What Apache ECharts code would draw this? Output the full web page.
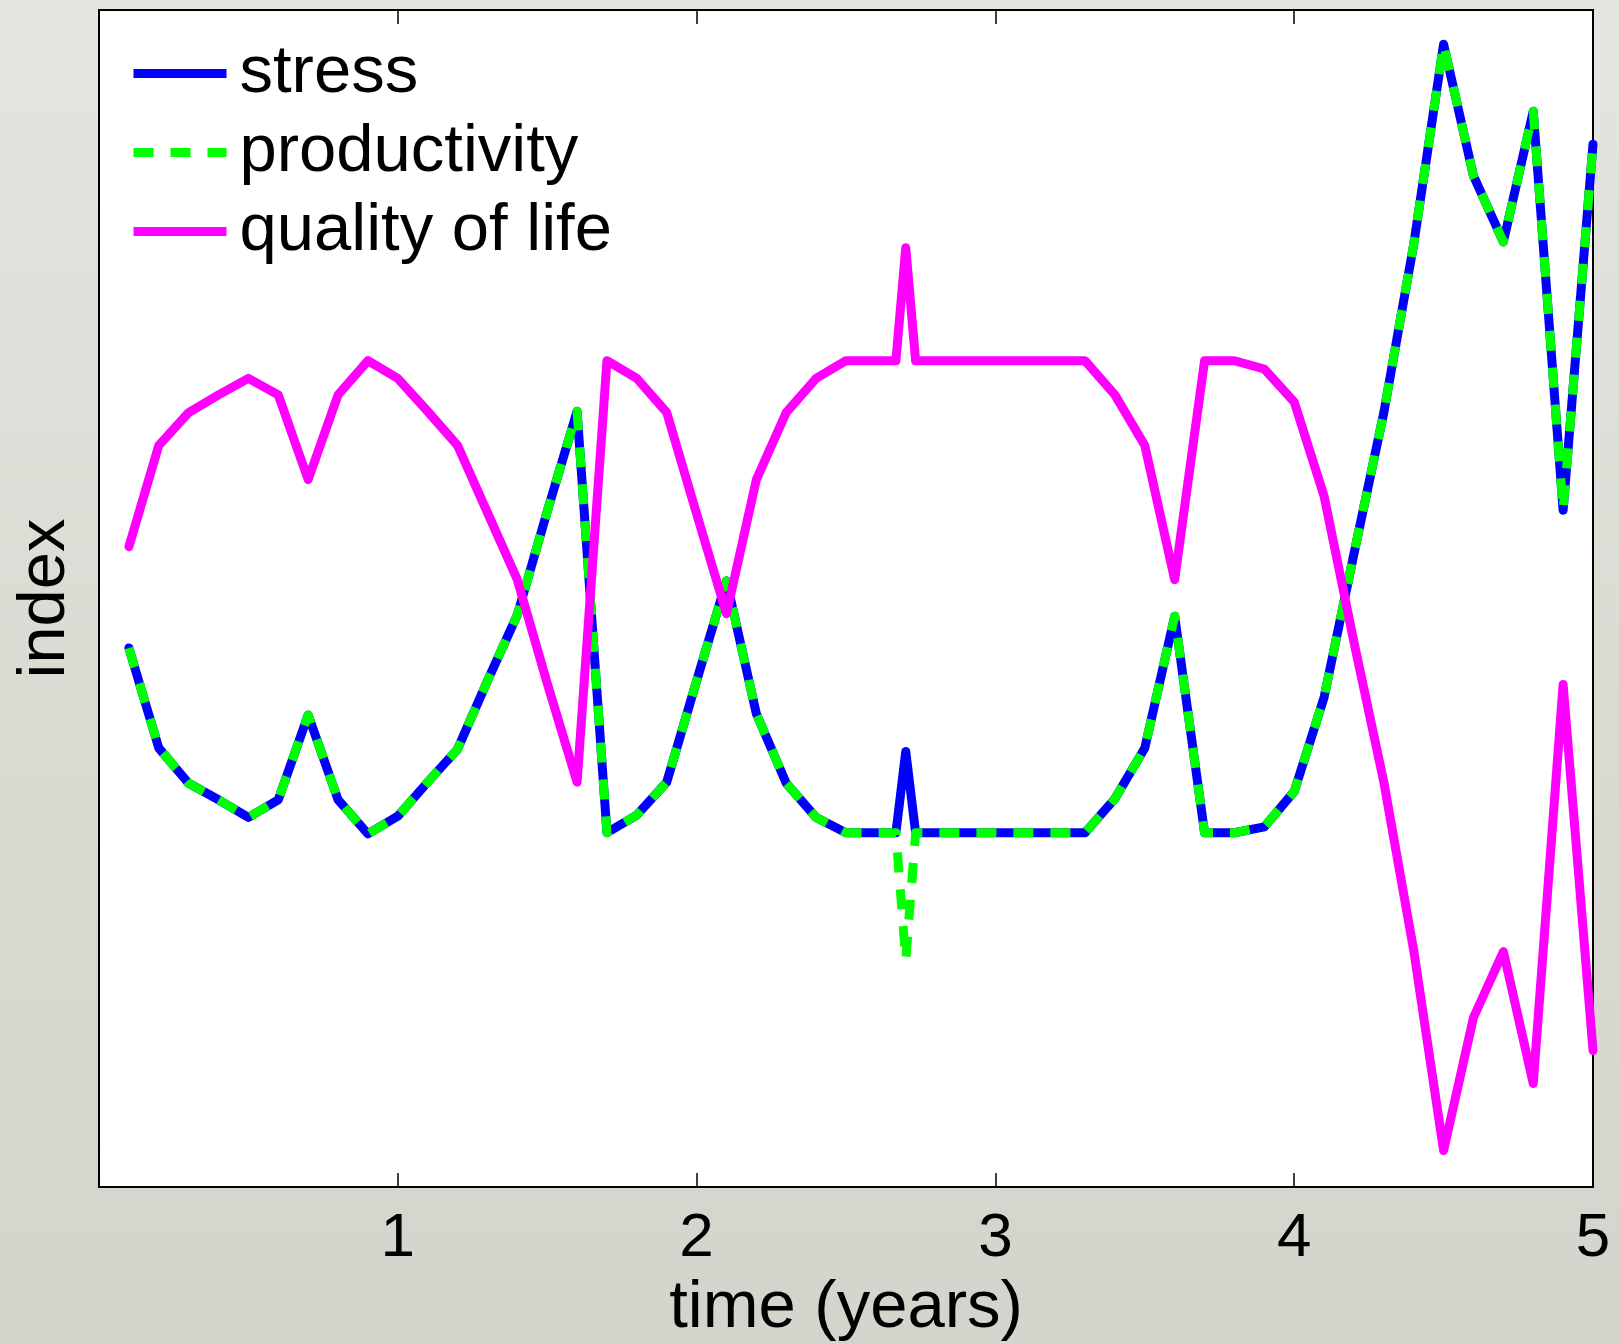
<!DOCTYPE html>
<html>
<head>
<meta charset="utf-8">
<title>stress / productivity / quality of life</title>
<script src="https://cdn.jsdelivr.net/npm/echarts@6/dist/echarts.min.js"></script>
<style>
  html, body {
    margin: 0;
    padding: 0;
  }
  #chart {
    width: 1619px;
    height: 1343px;
    background: linear-gradient(180deg, #e5e5e0 0%, #dbdbd4 50%, #d4d4cc 100%);
  }
</style>
</head>
<body>
<div id="chart"></div>
<script>
  // time points (years); extra points round the spike at 2.7
  const time = [
    0.1, 0.2, 0.3, 0.4, 0.5, 0.6, 0.7, 0.8, 0.9, 1.0,
    1.1, 1.2, 1.3, 1.4, 1.5, 1.6, 1.7, 1.8, 1.9, 2.0,
    2.1, 2.2, 2.3, 2.4, 2.5, 2.6, 2.667, 2.7, 2.733, 2.8,
    2.9, 3.0, 3.1, 3.2, 3.3, 3.4, 3.5, 3.6, 3.7, 3.8,
    3.9, 4.0, 4.1, 4.2, 4.3, 4.4, 4.5, 4.6, 4.7, 4.8,
    4.9, 5.0
  ]
  const stress = [
    0.458, 0.373, 0.343, 0.329, 0.314, 0.329, 0.401, 0.329, 0.300, 0.315,
    0.344, 0.372, 0.430, 0.486, 0.574, 0.659, 0.301, 0.316, 0.344, 0.430,
    0.515, 0.402, 0.343, 0.314, 0.301, 0.301, 0.301, 0.370, 0.301, 0.301,
    0.301, 0.301, 0.301, 0.301, 0.301, 0.330, 0.373, 0.485, 0.301, 0.301,
    0.306, 0.336, 0.416, 0.538, 0.658, 0.801, 0.971, 0.859, 0.803, 0.914,
    0.575, 0.886
  ]
  const productivity = [
    0.458, 0.373, 0.343, 0.329, 0.314, 0.329, 0.401, 0.329, 0.300, 0.315,
    0.344, 0.372, 0.430, 0.486, 0.574, 0.659, 0.301, 0.316, 0.344, 0.430,
    0.515, 0.402, 0.343, 0.314, 0.301, 0.301, 0.301, 0.193, 0.301, 0.301,
    0.301, 0.301, 0.301, 0.301, 0.301, 0.330, 0.373, 0.485, 0.301, 0.301,
    0.306, 0.336, 0.416, 0.538, 0.658, 0.801, 0.971, 0.859, 0.803, 0.914,
    0.575, 0.886
  ]
  const quality = [
    0.544, 0.630, 0.658, 0.673, 0.687, 0.673, 0.601, 0.673, 0.702, 0.687,
    0.659, 0.630, 0.573, 0.516, 0.428, 0.344, 0.702, 0.687, 0.658, 0.572,
    0.487, 0.601, 0.658, 0.687, 0.702, 0.702, 0.702, 0.798, 0.702, 0.702,
    0.702, 0.702, 0.702, 0.702, 0.702, 0.673, 0.630, 0.516, 0.702, 0.702,
    0.695, 0.667, 0.587, 0.463, 0.344, 0.201, 0.031, 0.144, 0.200, 0.088,
    0.427, 0.116
  ]
  const xTicks = [1, 2, 3, 4, 5]

  const font = '"Liberation Sans", Arial, Helvetica, sans-serif'

  function pairs(ys) {
    return time.map((t, i) => [t, ys[i]])
  }

  const chart = echarts.init(document.getElementById('chart'), null, {renderer: 'canvas'})

  chart.setOption({
    animation: false,
    backgroundColor: 'transparent',
    grid: {
      left: 99,
      top: 10,
      width: 1494,
      height: 1177,
      outerBoundsMode: 'none',
      containLabel: false,
      show: true,
      backgroundColor: '#ffffff',
      borderColor: '#000000',
      borderWidth: 2
    },
    legend: {
      orient: 'vertical',
      left: 129,
      top: 34,
      padding: 0,
      itemWidth: 93,
      itemHeight: 20,
      itemGap: 0,
      selectedMode: false,
      // hide the marker dot, keep only the line
      itemStyle: {opacity: 0},
      lineStyle: {width: 9, cap: 'butt'},
      textStyle: {
        fontFamily: font,
        fontSize: 67,
        lineHeight: 79,
        color: '#000',
        padding: [0, 0, 0, 8]
      },
      data: ['stress', 'productivity', 'quality of life']
    },
    xAxis: [
      {
        type: 'value',
        min: 0,
        max: 5,
        interval: 1,
        position: 'bottom',
        name: 'time (years)',
        nameLocation: 'middle',
        nameGap: 74,
        nameTextStyle: {
          fontFamily: font,
          fontSize: 67,
          color: '#000'
        },
        axisLine: {show: false},
        axisTick: {
          show: true,
          inside: true,
          length: 14,
          lineStyle: {color: '#000', width: 1.5}
        },
        axisLabel: {
          margin: 21,
          fontFamily: font,
          fontSize: 62,
          color: '#000',
          formatter: v => (xTicks.indexOf(v) >= 0 ? String(v) : '')
        },
        splitLine: {show: false}
      },
      {
        type: 'value',
        min: 0,
        max: 5,
        interval: 1,
        position: 'top',
        axisLine: {show: false},
        axisTick: {
          show: true,
          inside: true,
          length: 14,
          lineStyle: {color: '#000', width: 1.5}
        },
        axisLabel: {show: false},
        splitLine: {show: false}
      }
    ],
    yAxis: {
      type: 'value',
      min: 0,
      max: 1,
      name: 'index',
      nameLocation: 'middle',
      nameGap: 20,
      nameTextStyle: {
        fontFamily: font,
        fontSize: 67,
        color: '#000'
      },
      axisLine: {show: false},
      axisTick: {show: false},
      axisLabel: {show: false},
      splitLine: {show: false}
    },
    series: [
      {
        name: 'stress',
        type: 'line',
        symbol: 'none',
        color: '#0000ff',
        lineStyle: {color: '#0000ff', width: 9, cap: 'round', join: 'round'},
        data: pairs(stress)
      },
      {
        name: 'productivity',
        type: 'line',
        symbol: 'none',
        color: '#00ff00',
        lineStyle: {color: '#00ff00', width: 9, type: [20, 17], cap: 'butt', join: 'round'},
        data: pairs(productivity)
      },
      {
        name: 'quality of life',
        type: 'line',
        symbol: 'none',
        color: '#ff00ff',
        lineStyle: {color: '#ff00ff', width: 9, cap: 'round', join: 'round'},
        data: pairs(quality)
      }
    ]
  })
</script>
</body>
</html>
